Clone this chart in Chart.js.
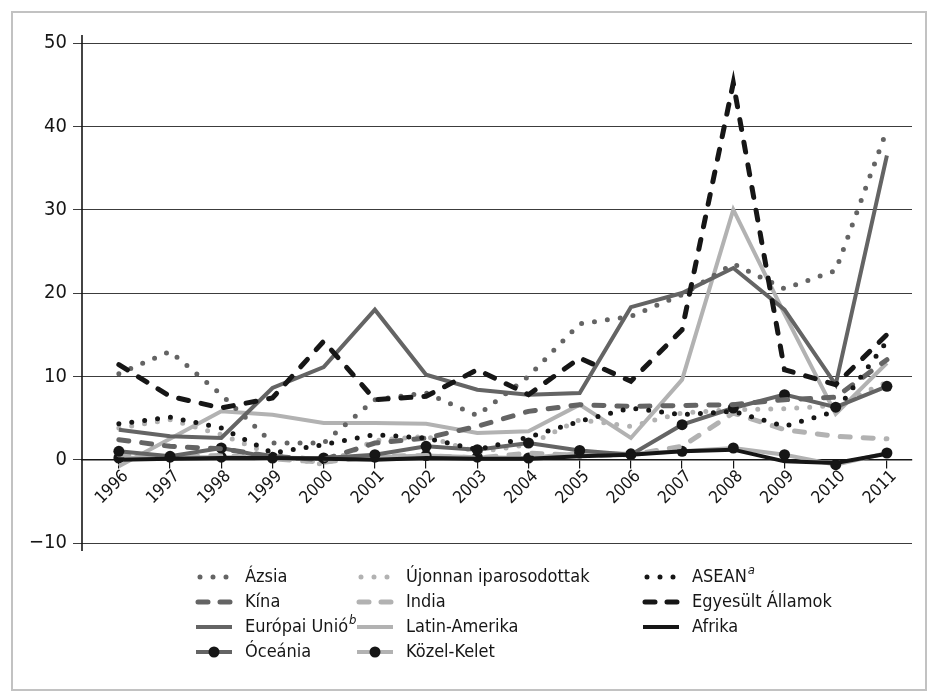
<!DOCTYPE html>
<html>
<head>
<meta charset="utf-8">
<script src="https://cdn.jsdelivr.net/npm/chart.js@4.4.0/dist/chart.umd.min.js"></script>
<style>
  html, body { margin: 0; padding: 0; background: #fff; }
  #wrap { position: relative; width: 936px; height: 694px; }
  #frame { position: absolute; left: 11px; top: 11px; width: 912px; height: 676px; border: 2px solid #c2c2c2; pointer-events: none; }
  canvas { position: absolute; left: 0; top: 0; }
</style>
</head>
<body>
<div id="wrap">
  <canvas id="chart" width="936" height="694"></canvas>
  <div id="frame"></div>
</div>
<script>
// years on the x axis
const years = [1996, 1997, 1998, 1999, 2000, 2001, 2002, 2003, 2004, 2005, 2006, 2007, 2008, 2009, 2010, 2011];
const yTicks = [-10, 0, 10, 20, 30, 40, 50];

// series values
const azsia    = [10.3, 13.0, 7.8, 2.0, 2.0, 7.2, 8.0, 5.3, 10.0, 16.3, 17.2, 19.8, 23.5, 20.5, 22.7, 39.6];
const kina     = [2.4, 1.6, 1.3, 0.4, 0.0, 2.0, 2.6, 4.0, 5.8, 6.6, 6.4, 6.5, 6.6, 7.2, 7.5, 12.0];
const eu       = [3.6, 2.8, 2.6, 8.6, 11.1, 18.0, 10.2, 8.4, 7.8, 8.0, 18.3, 20.0, 23.0, 18.0, 9.0, 36.5];
const oceania  = [1.0, 0.4, 1.4, 0.2, 0.2, 0.6, 1.6, 1.2, 2.0, 1.1, 0.6, 4.2, 6.2, 7.8, 6.3, 8.8];
const ujonnan  = [3.8, 4.8, 3.0, 0.6, -0.6, 2.3, 2.8, 0.9, 1.8, 4.8, 4.0, 5.6, 6.0, 6.1, 6.5, 9.3];
const india    = [0.6, 0.3, 0.5, 0.1, -0.3, 0.4, 0.5, 0.2, 0.8, 0.5, 0.6, 1.6, 5.6, 3.6, 2.8, 2.5];
const latin    = [-0.8, 2.5, 5.8, 5.4, 4.4, 4.4, 4.3, 3.2, 3.4, 6.6, 2.6, 9.6, 30.0, 17.5, 5.5, 11.6];
const kozel    = [0.2, 0.3, 0.3, 0.3, 0.1, 0.3, 0.5, 0.3, 0.2, 0.8, 0.7, 1.0, 1.4, 0.6, -0.6, 0.8];
const asean    = [4.3, 5.1, 3.8, 0.8, 1.8, 3.0, 2.6, 1.2, 2.7, 4.6, 6.2, 5.4, 5.8, 4.0, 5.8, 14.2];
const usa      = [11.4, 7.6, 6.2, 7.4, 14.2, 7.2, 7.6, 10.8, 7.8, 12.2, 9.4, 15.6, 45.2, 10.8, 9.0, 15.0];
const afrika   = [0.0, 0.1, 0.2, 0.2, 0.1, 0.0, 0.2, 0.1, 0.1, 0.4, 0.6, 1.0, 1.2, -0.2, -0.4, 0.7];

const MID = '#646464';
const LIGHT = '#b2b2b2';
const DARK = '#161616';
const FONT = "'Liberation Sans Narrow', 'DejaVu Sans Condensed', sans-serif";

function series(label, sup, values, color, style, order) {
    const ds = {
        label: label,
        sup: sup,
        lineStyle: style,
        data: values.map((v, i) => ({ x: years[i], y: v })),
        borderColor: color,
        backgroundColor: color,
        borderWidth: 4,
        pointRadius: 0,
        tension: 0,
        order: order
    };
    if (style === 'dot') {
        ds.borderDash = [0, 13];
        ds.borderCapStyle = 'round';
        ds.borderWidth = 5;
    } else if (style === 'dash') {
        ds.borderDash = [10, 13];
        ds.borderCapStyle = 'round';
        ds.borderWidth = 5;
    } else if (style === 'marker') {
        ds.pointRadius = 5.5;
        ds.pointBackgroundColor = DARK;
        ds.pointBorderWidth = 0;
    }
    return ds;
}

const datasets = [
    series('Ázsia', '', azsia, MID, 'dot', 1),
    series('Kína', '', kina, MID, 'dash', 1),
    series('Európai Unió', 'b', eu, MID, 'solid', 1),
    series('Óceánia', '', oceania, MID, 'marker', 1),
    series('Újonnan iparosodottak', '', ujonnan, LIGHT, 'dot', 2),
    series('India', '', india, LIGHT, 'dash', 2),
    series('Latin-Amerika', '', latin, LIGHT, 'solid', 2),
    series('Közel-Kelet', '', kozel, LIGHT, 'marker', 2),
    series('ASEAN', 'a', asean, DARK, 'dot', 0),
    series('Egyesült Államok', '', usa, DARK, 'dash', 0),
    series('Afrika', '', afrika, DARK, 'solid', 0)
];

// y axis line (a bit longer than the plot) and the slanted year labels
const axisExtras = {
    id: 'axisExtras',
    beforeDatasetsDraw(chart) {
        const { ctx, chartArea } = chart;
        ctx.save();
        ctx.strokeStyle = DARK;
        ctx.lineWidth = 1.6;
        ctx.beginPath();
        ctx.moveTo(chartArea.left, chartArea.top - 8);
        ctx.lineTo(chartArea.left, chartArea.bottom + 8);
        ctx.stroke();

        const xs = chart.scales.x, ys = chart.scales.y;
        const y0 = ys.getPixelForValue(0);
        ctx.fillStyle = DARK;
        ctx.font = '17px ' + FONT;
        ctx.textAlign = 'right';
        ctx.textBaseline = 'middle';
        years.forEach(yr => {
            ctx.save();
            ctx.translate(xs.getPixelForValue(yr) + 7, y0 + 14);
            ctx.rotate(-Math.PI / 4);
            ctx.fillText(String(yr), 0, 0);
            ctx.restore();
        });
        ctx.restore();
    }
};

// legend in three columns under the plot
const legendCols = [[0, 1, 2, 3], [4, 5, 6, 7], [8, 9, 10]];
const legendBox = {
    id: 'legendBox',
    afterDraw(chart) {
        const ctx = chart.ctx;
        const colX = [196, 357, 643];
        const rowY = [577, 602, 627, 652];
        ctx.save();
        legendCols.forEach((col, c) => {
            col.forEach((idx, r) => {
                const ds = chart.data.datasets[idx];
                const x0 = colX[c], x1 = x0 + 36, y = rowY[r];
                ctx.strokeStyle = ds.borderColor;
                ctx.lineWidth = ds.borderWidth;
                ctx.lineCap = ds.borderCapStyle || 'butt';
                ctx.setLineDash([]);
                ctx.beginPath();
                if (ds.lineStyle === 'dot') {
                    ctx.setLineDash([0, 13]);
                    ctx.moveTo(x0 + 4, y);
                    ctx.lineTo(x1, y);
                } else if (ds.lineStyle === 'dash') {
                    ctx.setLineDash([10, 12]);
                    ctx.moveTo(x0 + 2, y);
                    ctx.lineTo(x1, y);
                } else {
                    ctx.moveTo(x0, y);
                    ctx.lineTo(x1, y);
                }
                ctx.stroke();
                ctx.setLineDash([]);
                if (ds.lineStyle === 'marker') {
                    ctx.fillStyle = DARK;
                    ctx.beginPath();
                    ctx.arc((x0 + x1) / 2, y, 5.5, 0, Math.PI * 2);
                    ctx.fill();
                }
                ctx.fillStyle = DARK;
                ctx.font = '18px ' + FONT;
                ctx.textBaseline = 'middle';
                ctx.textAlign = 'left';
                ctx.fillText(ds.label, x1 + 13, y);
                if (ds.sup) {
                    const w = ctx.measureText(ds.label).width;
                    ctx.font = 'italic 13px ' + FONT;
                    ctx.fillText(ds.sup, x1 + 14 + w, y - 6);
                }
            });
        });
        ctx.restore();
    }
};

new Chart(document.getElementById('chart').getContext('2d'), {
    type: 'line',
    data: { datasets: datasets },
    options: {
        responsive: false,
        animation: false,
        layout: { padding: { left: 0, right: 24, top: 43, bottom: 151 } },
        plugins: { legend: { display: false }, tooltip: { enabled: false } },
        scales: {
            x: {
                type: 'linear',
                position: { y: 0 },
                min: 1995.28,
                max: 2011.49,
                afterBuildTicks: scale => { scale.ticks = years.map(v => ({ value: v })); },
                grid: { drawOnChartArea: false, drawTicks: true, tickLength: 8, color: DARK, lineWidth: 1.2 },
                border: { display: true, color: DARK, width: 1.6 },
                ticks: { display: false, autoSkip: false }
            },
            y: {
                min: -10,
                max: 50,
                afterBuildTicks: scale => { scale.ticks = yTicks.map(v => ({ value: v })); },
                afterFit: scale => { scale.width = 82; },
                grid: { color: '#3c3c3c', lineWidth: 1, tickLength: 9 },
                border: { display: false },
                ticks: {
                    padding: 6,
                    color: DARK,
                    font: { family: FONT, size: 20 },
                    callback: v => (v < 0 ? '\u2212' + Math.abs(v) : String(v))
                }
            }
        }
    },
    plugins: [axisExtras, legendBox]
});
</script>
</body>
</html>
